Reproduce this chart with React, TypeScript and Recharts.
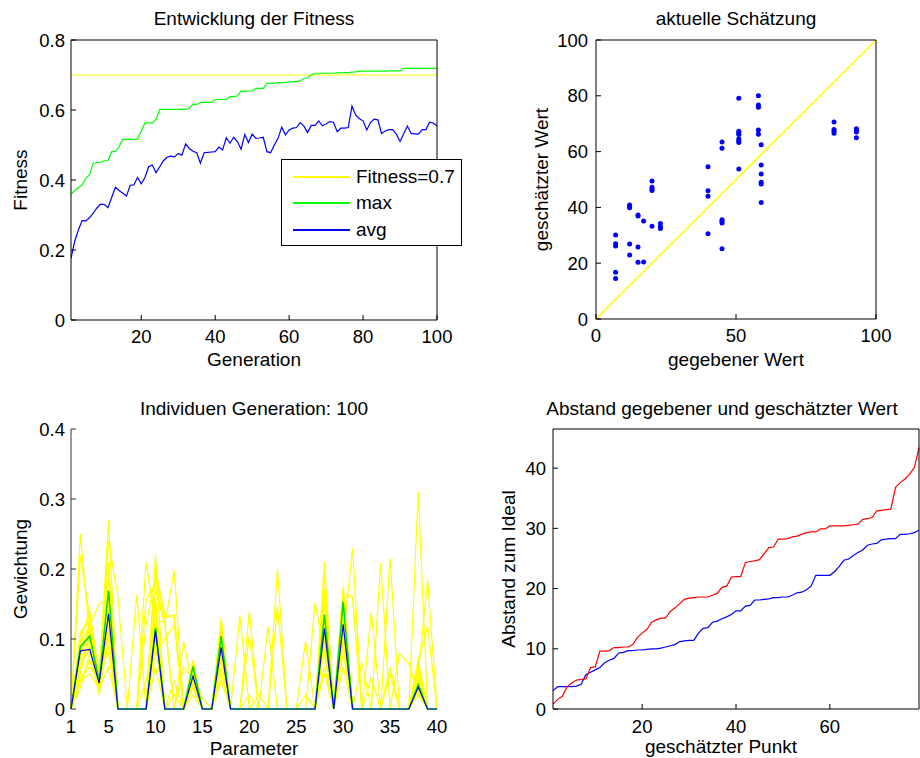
import React from "react";
import { ComposedChart, Line, XAxis, YAxis, ReferenceLine, ScatterChart, Scatter } from "recharts";

const FONT = "'Liberation Sans', Arial, Helvetica, sans-serif";

// Entwicklung der Fitness, generation 1..100
const maxFitness = [
  0.359, 0.37, 0.378, 0.386, 0.405, 0.415, 0.448, 0.45, 0.45, 0.455,
  0.455, 0.481, 0.481, 0.495, 0.516, 0.516, 0.516, 0.516, 0.516, 0.54,
  0.563, 0.563, 0.563, 0.573, 0.602, 0.602, 0.602, 0.602, 0.602, 0.602,
  0.602, 0.602, 0.605, 0.616, 0.616, 0.622, 0.622, 0.622, 0.622, 0.63,
  0.63, 0.63, 0.63, 0.638, 0.638, 0.64, 0.654, 0.654, 0.654, 0.655,
  0.662, 0.662, 0.662, 0.676, 0.676, 0.677, 0.678, 0.678, 0.679, 0.68,
  0.681, 0.681, 0.683, 0.69, 0.692, 0.7, 0.705, 0.705, 0.705, 0.705,
  0.705, 0.705, 0.706, 0.706, 0.707, 0.707, 0.708, 0.709, 0.711, 0.711,
  0.711, 0.711, 0.711, 0.711, 0.711, 0.711, 0.712, 0.712, 0.712, 0.712,
  0.719, 0.719, 0.719, 0.719, 0.719, 0.719, 0.719, 0.719, 0.719, 0.719,
];
const avgFitness = [
  0.176, 0.225, 0.257, 0.284, 0.283, 0.292, 0.305, 0.32, 0.331, 0.33,
  0.321, 0.35, 0.379, 0.37, 0.362, 0.354, 0.385, 0.386, 0.407, 0.389,
  0.407, 0.438, 0.443, 0.421, 0.438, 0.455, 0.465, 0.468, 0.466, 0.476,
  0.471, 0.503, 0.49, 0.482, 0.478, 0.448, 0.478, 0.479, 0.48, 0.481,
  0.494, 0.486, 0.521, 0.505, 0.522, 0.51, 0.488, 0.53, 0.507, 0.531,
  0.519, 0.52, 0.522, 0.481, 0.478, 0.5, 0.519, 0.551, 0.529, 0.543,
  0.548, 0.55, 0.564, 0.554, 0.536, 0.556, 0.556, 0.569, 0.555, 0.56,
  0.567, 0.565, 0.538, 0.548, 0.548, 0.55, 0.611, 0.586, 0.575, 0.569,
  0.543, 0.564, 0.574, 0.572, 0.533, 0.54, 0.544, 0.544, 0.531, 0.51,
  0.532, 0.554, 0.533, 0.532, 0.531, 0.544, 0.544, 0.565, 0.563, 0.554,
];
const fitnessGoal = 0.7;

// aktuelle Schätzung
const givenValues = [
  7, 7, 7, 7, 7, 12, 12, 12, 12, 12, 15, 15, 15, 15, 17, 17,
  20, 20, 20, 20, 20, 23, 23, 23, 40, 40, 40, 40,
  45, 45, 45, 45, 45, 45, 51, 51, 51, 51, 51, 51, 51, 51,
  58, 58, 58, 58, 58, 59, 59, 59, 59, 59, 59, 85, 85, 85, 85, 93, 93, 93, 93,
];
const estimatedValues = [
  30.1, 27, 26.2, 16.8, 14.5, 40.9, 40.3, 39.9, 26.9, 22.9, 37.3, 36.9, 25.8, 20.3, 35.1, 20.4,
  49.5, 47.2, 46.6, 46.1, 33.2, 34.2, 33.1, 32.4, 54.6, 46, 44, 30.6,
  63.4, 61.2, 35.6, 35, 34.4, 25.2, 79.1, 67.3, 66.7, 66.1, 64.5, 63.9, 63.3, 53.8,
  80, 76.7, 75.9, 67.7, 66.2, 62.5, 55.2, 52, 49, 48.4, 41.8, 70.6, 67.9, 67.3, 66.6, 68.2, 67.6, 67, 65,
];

// Individuen Generation: 100, parameter 1..40
const maxWeights = [
  0, 0.089, 0.104, 0.04, 0.169, 0, 0, 0, 0, 0.116, 0, 0, 0, 0.061, 0, 0, 0.104, 0, 0, 0,
  0, 0, 0, 0, 0, 0, 0, 0.135, 0, 0.153, 0, 0, 0, 0, 0, 0, 0, 0.035, 0, 0,
];
const avgWeights = [
  0, 0.083, 0.085, 0.037, 0.136, 0, 0, 0, 0, 0.112, 0, 0, 0, 0.047, 0, 0, 0.088, 0, 0, 0,
  0, 0, 0, 0, 0, 0, 0, 0.115, 0, 0.121, 0, 0, 0, 0, 0, 0, 0, 0.031, 0, 0,
];
const individuals = [
  [0, 0.25, 0.1, 0.03, 0.12, 0, 0, 0, 0, 0.1, 0, 0, 0, 0.05, 0, 0, 0.09, 0, 0, 0, 0, 0, 0, 0, 0, 0, 0, 0.12, 0, 0.1, 0, 0, 0, 0, 0, 0, 0, 0.03, 0, 0],
  [0, 0.22, 0.13, 0.04, 0.27, 0, 0, 0, 0, 0.22, 0, 0, 0, 0.07, 0, 0, 0.13, 0, 0, 0, 0, 0, 0, 0, 0, 0, 0, 0.21, 0, 0.17, 0, 0, 0, 0, 0, 0, 0, 0.31, 0, 0],
  [0, 0.1, 0.14, 0.05, 0.24, 0.16, 0, 0, 0.21, 0.12, 0, 0, 0, 0.06, 0, 0, 0.12, 0, 0, 0.14, 0, 0, 0, 0, 0, 0, 0, 0.16, 0, 0.12, 0, 0, 0, 0, 0, 0, 0, 0.06, 0, 0],
  [0, 0.08, 0.12, 0.15, 0.155, 0, 0, 0.163, 0, 0.2, 0.135, 0.13, 0, 0.04, 0, 0, 0.1, 0, 0, 0, 0, 0, 0.2, 0, 0, 0, 0, 0.13, 0, 0.15, 0, 0, 0, 0, 0, 0, 0, 0.05, 0.184, 0],
  [0, 0.06, 0.09, 0.02, 0.195, 0, 0, 0, 0.155, 0.18, 0.12, 0.198, 0, 0.05, 0, 0, 0.08, 0, 0.134, 0, 0, 0, 0, 0, 0, 0, 0, 0.1, 0, 0.165, 0.16, 0, 0, 0.209, 0, 0, 0, 0.04, 0, 0],
  [0, 0.04, 0.07, 0.03, 0.1, 0, 0, 0, 0, 0.15, 0, 0, 0.097, 0.03, 0, 0, 0.06, 0, 0, 0.105, 0, 0, 0.147, 0, 0, 0, 0.152, 0.08, 0, 0.1, 0.23, 0, 0, 0, 0.216, 0, 0, 0.07, 0.118, 0],
  [0, 0.09, 0.105, 0.04, 0.17, 0, 0, 0, 0, 0.11, 0, 0, 0, 0.06, 0, 0, 0.1, 0, 0, 0, 0, 0.118, 0, 0, 0, 0.097, 0, 0.13, 0, 0.15, 0, 0, 0.139, 0, 0, 0, 0, 0.035, 0, 0],
  [0, 0.03, 0.08, 0.06, 0.08, 0, 0, 0, 0, 0.08, 0.1, 0.12, 0, 0.03, 0, 0, 0.05, 0, 0, 0, 0, 0, 0, 0, 0, 0, 0, 0.06, 0, 0.08, 0, 0.067, 0, 0, 0, 0.08, 0.065, 0.02, 0, 0],
  [0, 0.05, 0.11, 0.03, 0.12, 0, 0, 0, 0, 0.14, 0, 0.04, 0, 0.04, 0, 0, 0.11, 0, 0, 0, 0, 0, 0, 0, 0, 0, 0, 0.165, 0, 0.11, 0, 0, 0, 0, 0, 0, 0, 0.04, 0, 0],
  [0, 0.1, 0.09, 0.04, 0.15, 0, 0, 0, 0, 0.09, 0, 0, 0, 0.05, 0.015, 0, 0.07, 0, 0, 0, 0.02, 0, 0, 0, 0, 0, 0, 0.09, 0, 0.13, 0, 0, 0, 0, 0.05, 0, 0, 0.06, 0, 0],
  [0, 0.07, 0.1, 0.05, 0.14, 0, 0, 0, 0, 0.13, 0, 0, 0, 0.035, 0, 0, 0.09, 0, 0, 0, 0, 0, 0, 0, 0, 0, 0, 0.11, 0, 0.09, 0, 0, 0, 0, 0, 0, 0, 0.03, 0, 0],
  [0, 0.04, 0.05, 0.03, 0.06, 0, 0, 0, 0, 0.06, 0, 0, 0, 0.02, 0, 0, 0.04, 0, 0, 0, 0, 0, 0, 0, 0, 0, 0, 0.05, 0, 0.06, 0, 0, 0, 0, 0, 0, 0, 0.02, 0, 0],
  [0, 0.105, 0.135, 0.03, 0.19, 0, 0, 0, 0.12, 0.19, 0.13, 0.135, 0, 0.055, 0, 0, 0.12, 0, 0, 0, 0, 0, 0, 0, 0, 0, 0, 0.17, 0, 0.175, 0, 0, 0, 0, 0, 0, 0, 0.05, 0, 0],
  [0, 0.095, 0.12, 0.04, 0.16, 0, 0, 0, 0, 0.17, 0.12, 0, 0, 0.065, 0, 0, 0.11, 0, 0, 0, 0, 0, 0, 0, 0, 0, 0, 0.15, 0, 0.16, 0.16, 0, 0, 0, 0, 0, 0, 0.065, 0, 0],
  [0, 0.065, 0.085, 0.02, 0.11, 0, 0, 0, 0, 0.125, 0, 0, 0.06, 0.045, 0, 0, 0.085, 0, 0, 0.02, 0, 0, 0, 0, 0, 0, 0, 0.1, 0, 0.105, 0, 0, 0.045, 0, 0.06, 0, 0, 0.045, 0, 0],
  [0, 0.045, 0.06, 0.04, 0.09, 0, 0, 0, 0.04, 0.1, 0, 0.02, 0, 0.045, 0, 0, 0.075, 0, 0, 0, 0, 0, 0, 0, 0, 0, 0, 0.085, 0, 0.095, 0, 0, 0, 0, 0, 0, 0, 0.025, 0, 0],
  [0, 0.11, 0.125, 0.05, 0.21, 0, 0, 0, 0, 0.16, 0, 0, 0, 0.07, 0, 0, 0.125, 0, 0, 0, 0, 0, 0, 0, 0, 0.02, 0, 0.195, 0, 0.14, 0, 0, 0, 0, 0, 0, 0, 0.07, 0, 0],
  [0, 0.075, 0.115, 0.035, 0.13, 0, 0, 0, 0, 0.125, 0.125, 0, 0, 0.04, 0, 0, 0.095, 0, 0, 0, 0, 0, 0, 0, 0, 0, 0, 0.12, 0, 0.12, 0, 0, 0, 0, 0, 0, 0, 0.035, 0, 0],
];

// Abstand gegebener und geschätzter Wert, point 1..79
const distanceRed = [
  0.8, 1.6, 2.1, 3.7, 4.3, 4.8, 4.9, 5.0, 6.9, 7.0,
  9.6, 9.6, 9.7, 10.2, 10.2, 10.3, 10.3, 10.7, 11.9, 12.6,
  13.2, 14.4, 14.8, 15.1, 15.1, 16.2, 16.8, 17.5, 18.2, 18.4,
  18.5, 18.6, 18.6, 18.6, 18.9, 19.2, 20.2, 20.4, 21.9, 22.0,
  22.0, 24.3, 24.5, 24.6, 24.8, 25.8, 26.8, 26.9, 28.2, 28.2,
  28.3, 28.6, 28.7, 29.0, 29.3, 29.4, 29.4, 29.9, 29.9, 30.4,
  30.4, 30.4, 30.4, 30.5, 30.6, 30.7, 31.5, 31.6, 31.8, 32.9,
  33.0, 33.1, 33.2, 36.8, 37.6, 38.2, 39.0, 40.1, 43.4,
];
const distanceBlue = [
  3.05, 3.7, 3.7, 3.7, 3.7, 3.8, 4.1, 5.7, 6.1, 6.5,
  6.9, 7.7, 8.1, 8.4, 9.3, 9.4, 9.7, 9.7, 9.8, 9.8,
  9.9, 10.0, 10.0, 10.1, 10.3, 10.5, 10.7, 11.2, 11.3, 11.4,
  11.4, 12.6, 13.4, 13.5, 14.4, 14.6, 15.0, 15.3, 15.7, 16.3,
  16.3, 17.1, 17.2, 18.1, 18.1, 18.2, 18.3, 18.5, 18.5, 18.6,
  18.6, 18.9, 19.3, 19.4, 19.8, 20.4, 22.2, 22.2, 22.2, 22.2,
  22.8, 23.7, 24.7, 24.9, 25.5, 26.0, 26.4, 27.2, 27.4, 27.5,
  28.1, 28.2, 28.3, 28.3, 29.0, 29.0, 29.1, 29.3, 29.7,
];

const fitnessData = maxFitness.map((m, i) => ({ gen: i + 1, max: m, avg: avgFitness[i] }));
const scatterData = givenValues.map((x, i) => ({ x, y: estimatedValues[i] }));
const weightData = maxWeights.map((m, i) => {
  const row: Record<string, number> = { p: i + 1, max: m, avg: avgWeights[i] };
  individuals.forEach((ind, k) => {
    row["ind" + k] = ind[i];
  });
  return row;
});
const distanceData = distanceRed.map((r, i) => ({ n: i + 1, red: r, blue: distanceBlue[i] }));

const tickStyle = { fontSize: 18.5, fill: "#000", fontFamily: FONT };
const labelStyle = { fontSize: 19, fill: "#000", fontFamily: FONT };

const dot = (props: any) => <circle cx={props.cx} cy={props.cy} r={2.5} fill="#0000ff" />;

const legendRows = [
  { name: "Fitness=0.7", color: "#ffff00", y: 17 },
  { name: "max", color: "#00ff00", y: 43 },
  { name: "avg", color: "#0000ff", y: 70 },
];

export default function App() {
  return (
    <div style={{ position: "absolute", left: 0, top: 0, width: 920, height: 758, background: "#fff", fontFamily: FONT }}>
      {/* Entwicklung der Fitness */}
      <div style={{ position: "absolute", left: 0, top: 0 }}>
        <ComposedChart width={470} height={380} data={fitnessData} margin={{ top: 39, right: 32, bottom: 0, left: 0 }}>
          <XAxis dataKey="gen" type="number" domain={[1, 100]} ticks={[20, 40, 60, 80, 100]} height={60}
            tickSize={-5} tickMargin={15} tick={tickStyle} stroke="#000" allowDataOverflow
            label={{ value: "Generation", position: "insideBottom", offset: 14, ...labelStyle }} />
          <XAxis xAxisId="top" orientation="top" type="number" domain={[1, 100]} ticks={[20, 40, 60, 80, 100]}
            height={1} tickSize={-5} tick={false} stroke="#000"
            label={{ value: "Entwicklung der Fitness", position: "top", offset: 14, ...labelStyle }} />
          <YAxis type="number" domain={[0, 0.8]} ticks={[0, 0.2, 0.4, 0.6, 0.8]} width={71}
            tickSize={-5} tickMargin={11} tick={tickStyle} stroke="#000"
            label={{ value: "Fitness", angle: -90, position: "insideLeft", offset: 20, ...labelStyle, style: { textAnchor: "middle" } }} />
          <YAxis yAxisId="right" orientation="right" type="number" domain={[0, 0.8]} ticks={[0, 0.2, 0.4, 0.6, 0.8]}
            width={1} tickSize={-5} tick={false} stroke="#000" />
          <ReferenceLine y={fitnessGoal} stroke="#ffff00" strokeWidth={1.2} />
          <Line dataKey="max" stroke="#00ff00" strokeWidth={1.2} dot={false} isAnimationActive={false} />
          <Line dataKey="avg" stroke="#0000ff" strokeWidth={1.2} dot={false} isAnimationActive={false} />
        </ComposedChart>
        <div style={{ position: "absolute", left: 281, top: 159, width: 179, height: 85, border: "1.5px solid #000", background: "#fff" }}>
          {legendRows.map((r) => (
            <div key={r.name}>
              <div style={{ position: "absolute", left: 11, top: r.y - 1, width: 57, height: 1.5, background: r.color }} />
              <div style={{ position: "absolute", left: 74, top: r.y - 12, height: 24, lineHeight: "24px", fontSize: 19, color: "#000", whiteSpace: "nowrap" }}>
                {r.name}
              </div>
            </div>
          ))}
        </div>
      </div>

      {/* aktuelle Schätzung */}
      <div style={{ position: "absolute", left: 460, top: 0 }}>
        <ScatterChart width={460} height={380} margin={{ top: 39, right: 43, bottom: 0, left: 0 }}>
          <XAxis dataKey="x" type="number" domain={[0, 100]} ticks={[0, 50, 100]} height={61}
            tickSize={-5} tickMargin={15} tick={tickStyle} stroke="#000"
            label={{ value: "gegebener Wert", position: "insideBottom", offset: 14, ...labelStyle }} />
          <XAxis xAxisId="top" orientation="top" type="number" domain={[0, 100]} ticks={[0, 50, 100]}
            height={1} tickSize={-5} tick={false} stroke="#000"
            label={{ value: "aktuelle Schätzung", position: "top", offset: 14, ...labelStyle }} />
          <YAxis dataKey="y" type="number" domain={[0, 100]} ticks={[0, 20, 40, 60, 80, 100]} width={136}
            tickSize={-5} tickMargin={13} tick={tickStyle} stroke="#000"
            label={{ value: "geschätzter Wert", angle: -90, position: "insideLeft", offset: 81, ...labelStyle, style: { textAnchor: "middle" } }} />
          <YAxis yAxisId="right" orientation="right" type="number" domain={[0, 100]} ticks={[0, 20, 40, 60, 80, 100]}
            width={1} tickSize={-5} tick={false} stroke="#000" />
          <ReferenceLine segment={[{ x: 0, y: 0 }, { x: 100, y: 100 }]} stroke="#ffff00" strokeWidth={1.5} />
          <Scatter data={scatterData} shape={dot} isAnimationActive={false} />
        </ScatterChart>
      </div>

      {/* Individuen Generation: 100 */}
      <div style={{ position: "absolute", left: 0, top: 380 }}>
        <ComposedChart width={460} height={378} data={weightData} margin={{ top: 48, right: 23, bottom: 0, left: 0 }}>
          <XAxis dataKey="p" type="number" domain={[1, 40]} ticks={[1, 5, 10, 15, 20, 25, 30, 35, 40]} height={49}
            tickSize={0} tickLine={false} axisLine={false} tickMargin={11} tick={tickStyle}
            label={{ value: "Parameter", position: "insideBottom", offset: 3, ...labelStyle }} />
          <XAxis xAxisId="top" orientation="top" type="number" domain={[1, 40]} height={1} axisLine={false} tick={false} tickLine={false}
            label={{ value: "Individuen Generation: 100", position: "top", offset: 13, ...labelStyle }} />
          <YAxis type="number" domain={[0, 0.4]} ticks={[0, 0.1, 0.2, 0.3, 0.4]} width={71}
            tickSize={-5} tickMargin={11} tick={tickStyle} stroke="#333"
            label={{ value: "Gewichtung", angle: -90, position: "insideLeft", offset: 20, ...labelStyle, style: { textAnchor: "middle" } }} />
          {individuals.map((_, k) => (
            <Line key={k} dataKey={"ind" + k} stroke="#ffff00" strokeWidth={1.2} dot={false} isAnimationActive={false} />
          ))}
          <Line dataKey="max" stroke="#00dd00" strokeWidth={1.5} dot={false} isAnimationActive={false} />
          <Line dataKey="avg" stroke="#0000ff" strokeWidth={1.2} dot={false} isAnimationActive={false} />
        </ComposedChart>
      </div>

      {/* Abstand gegebener und geschätzter Wert */}
      <div style={{ position: "absolute", left: 460, top: 380 }}>
        <ComposedChart width={460} height={378} data={distanceData} margin={{ top: 48, right: 0, bottom: 0, left: 0 }}>
          <XAxis dataKey="n" type="number" domain={[1, 79]} ticks={[20, 40, 60]} height={49}
            tickSize={-5} tickMargin={16} tick={tickStyle} stroke="#000"
            label={{ value: "geschätzter Punkt", position: "insideBottom", offset: 5, dx: -15, ...labelStyle }} />
          <XAxis xAxisId="top" orientation="top" type="number" domain={[1, 79]} ticks={[20, 40, 60]}
            height={1} tickSize={-5} tick={false} stroke="#000"
            label={{ value: "Abstand gegebener und geschätzter Wert", position: "top", offset: 13, dx: -14, ...labelStyle }} />
          <YAxis type="number" domain={[0, 46.5]} ticks={[0, 10, 20, 30, 40]} width={93}
            tickSize={-5} tickMargin={12} tick={tickStyle} stroke="#000"
            label={{ value: "Abstand zum Ideal", angle: -90, position: "insideLeft", offset: 48, ...labelStyle, style: { textAnchor: "middle" } }} />
          <YAxis yAxisId="right" orientation="right" type="number" domain={[0, 46.5]} ticks={[0, 10, 20, 30, 40]}
            width={1} tickSize={-5} tick={false} stroke="#000" />
          <Line dataKey="blue" stroke="#0000ff" strokeWidth={1.2} dot={false} isAnimationActive={false} />
          <Line dataKey="red" stroke="#ff0000" strokeWidth={1.2} dot={false} isAnimationActive={false} />
        </ComposedChart>
      </div>
    </div>
  );
}
